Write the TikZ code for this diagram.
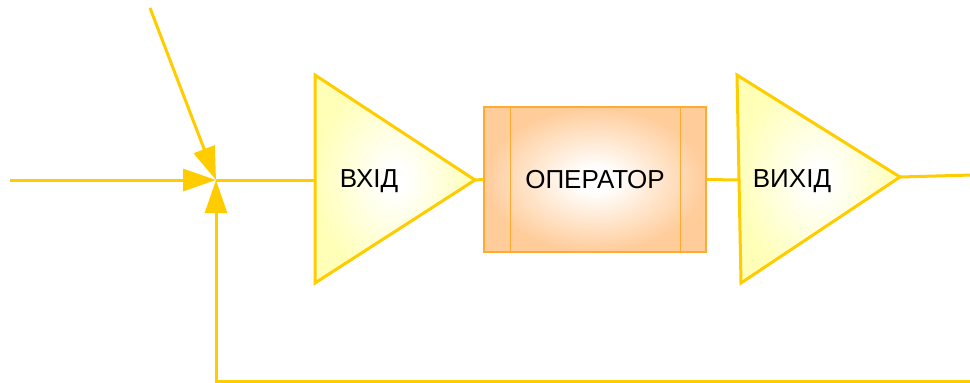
\documentclass[tikz,border=0pt]{standalone}
\usepackage{fontspec}
\setmainfont{Liberation Sans}
\usetikzlibrary{arrows.meta}
\definecolor{ln}{HTML}{FFCC00}
\definecolor{trifill}{HTML}{FFFFB8}
\definecolor{opfill}{HTML}{FFCC9A}
\definecolor{opline}{HTML}{FFAA30}
\pgfdeclareradialshading{opshade}{\pgfpoint{0bp}{0bp}}{color(0bp)=(white); color(4bp)=(white); color(25bp)=(opfill); color(50bp)=(opfill)}
\pgfdeclareradialshading{trishade}{\pgfpoint{0bp}{0bp}}{color(0bp)=(white); color(3bp)=(white); color(25bp)=(trifill); color(50bp)=(trifill)}
\begin{document}
\begin{tikzpicture}[x=1pt,y=-1pt,
  wire/.style={draw=ln,line width=3pt},
  tipped/.style={-{Triangle[length=33pt,width=22pt]}},
  amp/.style={draw=ln,line width=3pt,line join=miter,shading=trishade},
  txt/.style={font=\fontsize{26}{30}\selectfont,text=black,inner sep=0pt,text depth=0pt}
]
\useasboundingbox (0,0) rectangle (970,383);
% named points
\coordinate (in) at (10,180);
\coordinate (dist) at (150,8);
\coordinate (sum) at (216,180);
\coordinate (fbr) at (972,381);
\coordinate (out) at (972,175);
\coordinate (t1a) at (315,75);
\coordinate (t1b) at (315,283);
\coordinate (t1c) at (475,180);
\coordinate (t1in) at (315,180);
\coordinate (t2a) at (737,75);
\coordinate (t2b) at (741,283);
\coordinate (t2c) at (900,177);
\coordinate (t2in) at (739,180);
% amplifiers
\shadedraw[amp] (t1a) -- (t1c) -- (t1b) -- cycle;
\shadedraw[amp] (t2a) -- (t2c) -- (t2b) -- cycle;
\node[txt,anchor=base] (vhid) at (369,187) {ВХІД};
\node[txt,anchor=base] (vyhid) at (792,187) {ВИХІД};
% operator
\node[draw=opline,line width=1.5pt,shading=opshade,
      minimum width=222pt,minimum height=145pt,inner sep=0pt] (op) at (595,179.5) {};
\node[txt,anchor=base] (optext) at (595,188) {ОПЕРАТОР};
\draw[opline,line width=1.2pt] ([xshift=27pt]op.north west) -- ([xshift=27pt]op.south west);
\draw[opline,line width=1.2pt] ([xshift=-26pt]op.north east) -- ([xshift=-26pt]op.south east);
% connectors
\draw[wire] (sum) -- (t1in);
\draw[wire] (t1c) -- (op.west);
\draw[wire] (op.east) -- (t2in);
\draw[wire] (t2c) -- (out);
\draw[wire,tipped] (in) -- (sum);
\draw[wire,tipped] (dist) -- (sum);
\draw[wire,tipped] (fbr) -- (sum |- fbr) -- (sum);
\end{tikzpicture}
\end{document}
